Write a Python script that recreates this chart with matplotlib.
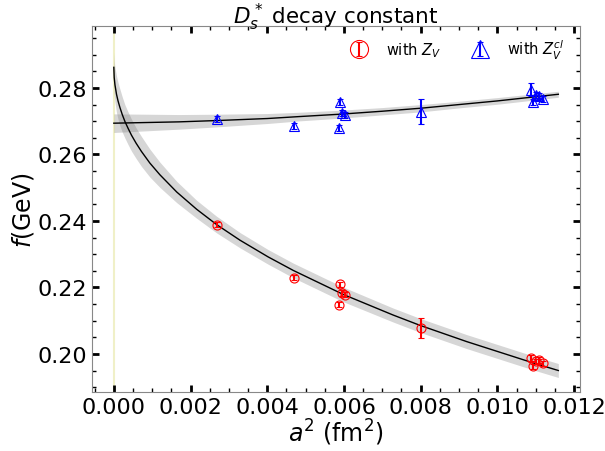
import matplotlib.pyplot as plt
import numpy as np
from matplotlib.ticker import MultipleLocator

# lattice spacings a^2 (fm^2)
a2 = [0.00268, 0.00471, 0.00586, 0.00591, 0.00596, 0.00602, 0.0080,
      0.01087, 0.01093, 0.01102, 0.01109, 0.01118]
# f with Z_V
f_zv = [0.2389, 0.2229, 0.2148, 0.2209, 0.2183, 0.2178, 0.2078,
        0.1987, 0.1963, 0.1978, 0.1982, 0.1972]
err_zv = [0.0008, 0.0008, 0.0008, 0.0008, 0.0008, 0.0008, 0.0029,
          0.0009, 0.0008, 0.0008, 0.0008, 0.0008]
# f with Z_V^cl
f_cl = [0.2707, 0.2687, 0.2680, 0.2757, 0.2724, 0.2719, 0.2729,
        0.2795, 0.2757, 0.2779, 0.2777, 0.2767]
err_cl = [0.0009, 0.0009, 0.0009, 0.0009, 0.0009, 0.0009, 0.0038,
          0.0019, 0.0009, 0.0009, 0.0009, 0.0009]

# fit curves (central value and half width)
fit_zv_x = [0.0, 0.00001, 0.00003, 0.00007, 0.00011, 0.00016, 0.00022, 0.00029,
            0.00037, 0.00046, 0.00058, 0.00072, 0.00094, 0.0012, 0.00164,
            0.00216, 0.00268, 0.00329, 0.00402, 0.00468, 0.00598, 0.00728,
            0.00798, 0.0092, 0.01093, 0.01159]
fit_zv_y = [0.2862, 0.2831, 0.2809, 0.2781, 0.2761, 0.2741, 0.2720, 0.2699,
            0.2679, 0.2658, 0.2634, 0.2609, 0.2574, 0.2539, 0.2487,
            0.2435, 0.2389, 0.2342, 0.2292, 0.2251, 0.2179, 0.2117,
            0.2086, 0.2037, 0.1973, 0.1950]
fit_zv_err = [0.0046, 0.0050, 0.0052, 0.0055, 0.0055, 0.0055, 0.0053, 0.0050,
              0.0049, 0.0048, 0.0046, 0.0045, 0.0042, 0.0038, 0.0032,
              0.0027, 0.0025, 0.0023, 0.0022, 0.0022, 0.0022, 0.0021,
              0.0021, 0.0021, 0.0021, 0.0021]

fit_cl_x = [0.0, 0.0017, 0.0027, 0.0040, 0.00485, 0.0059, 0.0070, 0.0080,
            0.0090, 0.0100, 0.01159]
fit_cl_y = [0.2694, 0.2698, 0.2702, 0.2708, 0.2714, 0.2721, 0.2730, 0.2739,
            0.2750, 0.2761, 0.2781]
fit_cl_err = [0.0028, 0.0022, 0.0019, 0.0015, 0.0013, 0.0012, 0.0011, 0.0011,
              0.0010, 0.0010, 0.0009]

fig = plt.figure(figsize=(6.05, 4.52), dpi=100)
ax = fig.add_axes([0.152, 0.131, 0.807, 0.809])

ax.axvline(0.0, color='#f0f0c8', lw=1.5, zorder=0)

fx = np.array(fit_zv_x); fy = np.array(fit_zv_y); fe = np.array(fit_zv_err)
ax.fill_between(fx, fy - fe, fy + fe, color='gray', alpha=0.32, lw=0)
ax.plot(fx, fy, color='black', lw=1)

cx = np.array(fit_cl_x); cy = np.array(fit_cl_y); ce = np.array(fit_cl_err)
ax.fill_between(cx, cy - ce, cy + ce, color='gray', alpha=0.32, lw=0)
ax.plot(cx, cy, color='black', lw=1)

ax.errorbar(a2, f_zv, yerr=err_zv, fmt='o', color='red', mfc='none',
            ms=6.5, mew=0.8, elinewidth=1.5, capsize=2.5, label='with $Z_V$')
ax.errorbar(a2, f_cl, yerr=err_cl, fmt='^', color='blue', mfc='none',
            ms=6.5, mew=0.8, elinewidth=1.5, capsize=2.5, label='with $Z_V^{cl}$')

ax.set_xlim(-0.00057, 0.01216)
ax.set_ylim(0.1886, 0.2986)
ax.xaxis.set_major_locator(MultipleLocator(0.002))
ax.xaxis.set_minor_locator(MultipleLocator(0.0005))
ax.yaxis.set_major_locator(MultipleLocator(0.02))
ax.yaxis.set_minor_locator(MultipleLocator(0.005))
ax.tick_params(which='both', direction='in', top=True, right=True, labelsize=16)
ax.tick_params(which='major', length=5, width=2)
ax.tick_params(which='minor', length=3, width=1)
for s in ax.spines.values():
    s.set_color('#888888')

ax.set_xlabel('$a^2$ (fm$^2$)', fontsize=17, labelpad=0)
ax.set_ylabel('$f$(GeV)', fontsize=17, labelpad=1)
# title placed by hand so that it stays inside the figure
fig.text(0.5555, 0.997, '$D_s^*$ decay constant', ha='center', va='top',
         fontsize=15.5)

ax.legend(loc='upper right', ncol=2, frameon=False, fontsize=10.5,
          markerscale=2, handletextpad=0.9, columnspacing=1.6,
          bbox_to_anchor=(0.995, 1.005))

plt.savefig('out.png')
plt.close()
